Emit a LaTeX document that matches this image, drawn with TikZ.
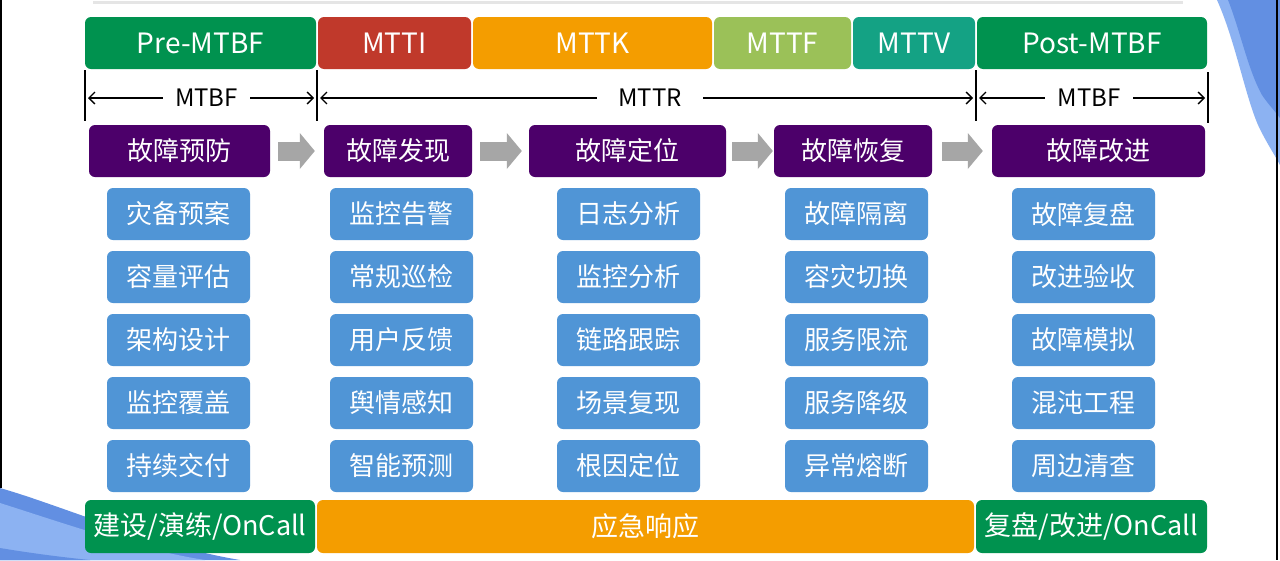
\documentclass[tikz,border=0pt]{standalone}
\usepackage{fontspec}
\setmainfont{Noto Sans CJK SC}
\usepackage{tikz}
\usetikzlibrary{arrows.meta}
\definecolor{OpsGreen}{RGB}{0,146,79}
\definecolor{OpsRed}{RGB}{192,57,43}
\definecolor{OpsOrange}{RGB}{244,157,0}
\definecolor{OpsLime}{RGB}{155,193,88}
\definecolor{OpsTeal}{RGB}{20,162,132}
\definecolor{OpsPurple}{RGB}{76,0,106}
\definecolor{OpsBlue}{RGB}{80,149,214}
\definecolor{OpsGray}{RGB}{166,166,166}
\definecolor{DecoDark}{RGB}{98,143,226}
\definecolor{DecoLight}{RGB}{140,178,242}

\tikzset{
  phase/.style={rounded corners=6pt, inner sep=0pt, minimum height=52pt, text=white, font=\fontsize{28}{31}\selectfont},
  stagebox/.style={phase, fill=OpsPurple, font=\fontsize{26}{30}\selectfont},
  taskbox/.style={phase, fill=OpsBlue, minimum width=143pt, font=\fontsize{26}{30}\selectfont},
  dutybox/.style={phase, minimum height=53pt, font=\fontsize{27}{30}\selectfont},
  limitbar/.style={black, line width=1.6pt},
  dimlabel/.style={inner sep=0pt, font=\fontsize{24}{26}\selectfont},
  dimarrow/.style={black, line width=1.4pt, shorten >=3pt, -{Straight Barb[length=6pt,width=12pt]}},
  flowarrow/.style={OpsGray, line width=19pt, -{Triangle[length=15pt,width=36pt,line width=0pt]}}
}

\begin{document}
\begin{tikzpicture}[x=1pt,y=-1pt]
  \path[use as bounding box] (0,0) rectangle (1280,560);
  \fill[white] (0,0) rectangle (1280,560);
  % slide frame
  \draw[black!10, line width=3pt] (93,2) -- (1183,2);
  \fill[DecoLight] (1217,0) .. controls (1235,40) and (1245,95) .. (1258,125) .. controls (1266,142) and (1273,152) .. (1280,165) -- (1280,0) -- cycle;
  \fill[DecoDark] (1228,0) .. controls (1240,30) and (1248,70) .. (1262,95) .. controls (1268,104) and (1274,110) .. (1280,118) -- (1280,0) -- cycle;
  \fill[DecoDark] (0,488) .. controls (60,505) and (150,545) .. (240,560) -- (0,560) -- cycle;
  \fill[DecoLight] (0,503) .. controls (60,522) and (140,550) .. (205,560) -- (0,560) -- cycle;
  \fill[DecoDark] (0,548) .. controls (30,553) and (60,557) .. (90,560) -- (0,560) -- cycle;
  \draw[black, line width=1.2pt] (1,0) -- (1,488);
  \draw[black, line width=1.2pt] (1277,0) -- (1277,560);

  % time spans
  \node[phase, fill=OpsGreen, minimum width=231pt] (preMtbf) at (200.5,43) {Pre-MTBF};
  \node[phase, fill=OpsRed, minimum width=153pt] (mtti) at (394.5,43) {MTTI};
  \node[phase, fill=OpsOrange, minimum width=239pt] (mttk) at (592.5,43) {MTTK};
  \node[phase, fill=OpsLime, minimum width=137pt] (mttf) at (782.5,43) {MTTF};
  \node[phase, fill=OpsTeal, minimum width=122pt] (mttv) at (914,43) {MTTV};
  \node[phase, fill=OpsGreen, minimum width=230pt] (postMtbf) at (1092,43) {Post-MTBF};

  % dimension lines
  \foreach \x/\y in {85/70,317/70,976/70,1208/72}{
    \draw[limitbar] (\x,\y) -- (\x,\y+51);
  }
  \coordinate (barA) at (85,98);
  \coordinate (barB) at (317,98);
  \coordinate (barC) at (976,98);
  \coordinate (barD) at (1208,98);
  \node[dimlabel, minimum width=87pt] (mtbfPre) at (206.5,98) {MTBF};
  \node[dimlabel, minimum width=106pt] (mttr) at (650,98) {MTTR};
  \node[dimlabel, minimum width=88pt] (mtbfPost) at (1089,98) {MTBF};
  \draw[dimarrow] (mtbfPre) -- (barA);
  \draw[dimarrow] (mtbfPre) -- (barB);
  \draw[dimarrow] (mttr) -- (barB);
  \draw[dimarrow] (mttr) -- (barC);
  \draw[dimarrow] (mtbfPost) -- (barC);
  \draw[dimarrow] (mtbfPost) -- (barD);

  % stages
  \node[stagebox, minimum width=181pt] (prevS) at (179.5,151) {故障预防};
  \node[stagebox, minimum width=148pt] (findS) at (398,151) {故障发现};
  \node[stagebox, minimum width=197pt] (locS) at (627.5,151) {故障定位};
  \node[stagebox, minimum width=158pt] (recovS) at (853,151) {故障恢复};
  \node[stagebox, minimum width=213pt] (imprS) at (1098.5,151) {故障改进};
  \draw[flowarrow, shorten <=8pt, shorten >=9pt] (prevS) -- (findS);
  \draw[flowarrow, shorten <=8pt, shorten >=7pt] (findS) -- (locS);
  \draw[flowarrow, shorten <=6pt, shorten >=1pt] (locS) -- (recovS);
  \draw[flowarrow, shorten <=10pt, shorten >=9pt] (recovS) -- (imprS);

  % tasks
  \foreach \txt [count=\r] in {灾备预案,容量评估,架构设计,监控覆盖,持续交付}{
    \node[taskbox] (prev\r) at (178.5,{151+63*\r}) {\txt};
  }
  \foreach \txt [count=\r] in {监控告警,常规巡检,用户反馈,舆情感知,智能预测}{
    \node[taskbox] (find\r) at (401.5,{151+63*\r}) {\txt};
  }
  \foreach \txt [count=\r] in {日志分析,监控分析,链路跟踪,场景复现,根因定位}{
    \node[taskbox] (loc\r) at (628.5,{151+63*\r}) {\txt};
  }
  \foreach \txt [count=\r] in {故障隔离,容灾切换,服务限流,服务降级,异常熔断}{
    \node[taskbox] (recov\r) at (856.5,{151+63*\r}) {\txt};
  }
  \foreach \txt [count=\r] in {故障复盘,改进验收,故障模拟,混沌工程,周边清查}{
    \node[taskbox] (impr\r) at (1083.5,{151+63*\r}) {\txt};
  }

  % duties
  \node[dutybox, fill=OpsGreen, minimum width=230pt] (buildDuty) at (200,526.5) {建设/演练/OnCall};
  \node[dutybox, fill=OpsOrange, minimum width=657pt] (respDuty) at (645.5,526.5) {应急响应};
  \node[dutybox, fill=OpsGreen, minimum width=231pt] (reviewDuty) at (1091.5,526.5) {复盘/改进/OnCall};
\end{tikzpicture}
\end{document}
